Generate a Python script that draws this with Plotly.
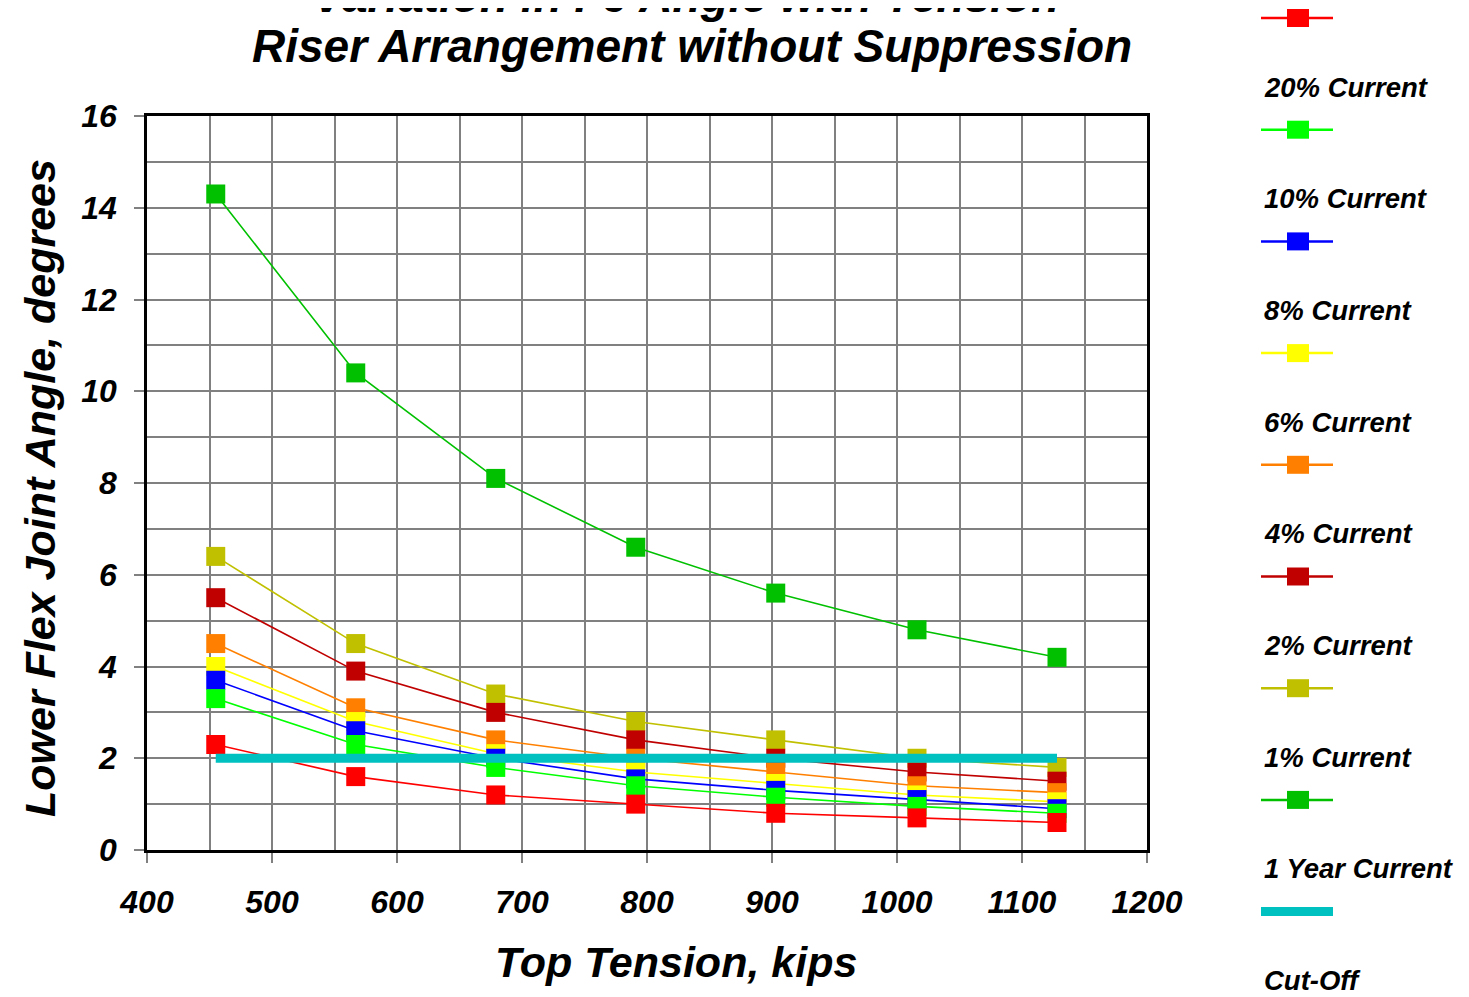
import plotly.graph_objects as go

# ---------------- data ----------------
tension = [455, 567, 679, 791, 903, 1016, 1128]

one_year = [14.3, 10.4, 8.1, 6.6, 5.6, 4.8, 4.2]
pct1 = [6.4, 4.5, 3.4, 2.8, 2.4, 2.0, 1.8]
pct2 = [5.5, 3.9, 3.0, 2.4, 2.0, 1.7, 1.5]
pct4 = [4.5, 3.1, 2.4, 2.0, 1.7, 1.4, 1.25]
pct6 = [4.0, 2.8, 2.1, 1.7, 1.45, 1.2, 1.05]
pct8 = [3.7, 2.6, 2.0, 1.55, 1.3, 1.1, 0.9]
pct10 = [3.3, 2.3, 1.8, 1.4, 1.15, 0.95, 0.8]
pct20 = [2.3, 1.6, 1.2, 1.0, 0.8, 0.7, 0.6]
cutoff = [2, 2, 2, 2, 2, 2, 2]

series_names = ["20% Current", "10% Current", "8% Current", "6% Current",
                "4% Current", "2% Current", "1% Current", "1 Year Current"]
series_values = [pct20, pct10, pct8, pct6, pct4, pct2, pct1, one_year]
series_colors = ["#FF0000", "#00FF00", "#0000FF", "#FFFF00",
                 "#FF8000", "#C00000", "#C0C000", "#00C000"]
cutoff_name = "Cut-Off"
cutoff_color = "#00C0C0"

x_ticks = [400, 500, 600, 700, 800, 900, 1000, 1100, 1200]
y_ticks = [0, 2, 4, 6, 8, 10, 12, 14, 16]

FONT = "Liberation Sans, Arial, sans-serif"

# ---------------- figure geometry (page has an 8px body offset) ----------------
OFF = 8
W, H = 1469 - OFF, 997 - OFF
L, R, T, B = 147 - OFF, 322, 116 - OFF, 147
plot_w = W - L - R
plot_h = H - T - B


def px_to_paper_x(px):
    return (px - OFF - L) / plot_w


def px_to_paper_y(py):
    return (H - B - (py - OFF)) / plot_h


fig = go.Figure()

# draw larger values first so lower series sit on top
for name, vals, col in reversed(list(zip(series_names, series_values, series_colors))):
    fig.add_trace(go.Scatter(
        x=tension, y=vals, mode="lines+markers", name=name,
        line=dict(color=col, width=1.6),
        marker=dict(symbol="square", size=19, color=col, line=dict(width=0)),
        showlegend=False, cliponaxis=False,
    ))

fig.add_trace(go.Scatter(
    x=tension, y=cutoff, mode="lines", name=cutoff_name,
    line=dict(color=cutoff_color, width=9), showlegend=False,
))

axis_common = dict(
    showgrid=True, gridcolor="#808080", gridwidth=1.5,
    showline=True, linecolor="black", linewidth=2.5, mirror=True,
    ticks="outside", ticklen=10, tickcolor="#808080", tickwidth=1.5,
    tickfont=dict(family=FONT, size=32, color="black", weight="bold", style="italic"),
    zeroline=False,
)

fig.update_xaxes(range=[400, 1200], tickvals=x_ticks,
                 minor=dict(dtick=50, tick0=400, showgrid=True, gridcolor="#808080", gridwidth=1.5),
                 ticklabelstandoff=12, **axis_common)
fig.update_yaxes(range=[0, 16], tickvals=y_ticks,
                 minor=dict(dtick=1, tick0=0, showgrid=True, gridcolor="#808080", gridwidth=1.5),
                 ticklabelstandoff=11, **axis_common)

annotations = []
shapes = []

title_font = dict(family=FONT, size=46, color="black", weight="bold", style="italic")
annotations.append(dict(text="Variation in FJ Angle with Tension", x=px_to_paper_x(686),
                        y=px_to_paper_y(-4), xref="paper", yref="paper",
                        showarrow=False, font=title_font, xanchor="center", yanchor="middle"))
annotations.append(dict(text="Riser Arrangement without Suppression", x=px_to_paper_x(692),
                        y=px_to_paper_y(46), xref="paper", yref="paper",
                        showarrow=False, font=title_font, xanchor="center", yanchor="middle"))

axis_title_font = dict(family=FONT, size=43, color="black", weight="bold", style="italic")
annotations.append(dict(text="Top Tension, kips", x=px_to_paper_x(676), y=px_to_paper_y(962),
                        xref="paper", yref="paper", showarrow=False, font=axis_title_font,
                        xanchor="center", yanchor="middle"))
annotations.append(dict(text="Lower Flex Joint Angle, degrees", x=px_to_paper_x(40),
                        y=px_to_paper_y(488), xref="paper", yref="paper", showarrow=False,
                        font=axis_title_font, textangle=-90, xanchor="center", yanchor="middle"))

# ---------------- custom legend (label below each symbol) ----------------
leg_font = dict(family=FONT, size=27.5, color="black", weight="bold", style="italic")
base_y = 18
step = 111.7
for i, (name, col) in enumerate(zip(series_names, series_colors)):
    my = base_y + i * step
    shapes.append(dict(type="line", xref="paper", yref="paper",
                       x0=px_to_paper_x(1261), x1=px_to_paper_x(1333),
                       y0=px_to_paper_y(my), y1=px_to_paper_y(my),
                       line=dict(color=col, width=2.5)))
    shapes.append(dict(type="rect", xref="paper", yref="paper",
                       x0=px_to_paper_x(1287), x1=px_to_paper_x(1309),
                       y0=px_to_paper_y(my - 9), y1=px_to_paper_y(my + 9),
                       fillcolor=col, line=dict(width=0)))
    annotations.append(dict(text=name, x=px_to_paper_x(1262), y=px_to_paper_y(my + 69),
                            xref="paper", yref="paper", showarrow=False, font=leg_font,
                            xanchor="left", yanchor="middle"))
my = base_y + len(series_names) * step
shapes.append(dict(type="line", xref="paper", yref="paper",
                   x0=px_to_paper_x(1261), x1=px_to_paper_x(1333),
                   y0=px_to_paper_y(my), y1=px_to_paper_y(my),
                   line=dict(color=cutoff_color, width=9)))
annotations.append(dict(text=cutoff_name, x=px_to_paper_x(1262), y=px_to_paper_y(my + 69),
                        xref="paper", yref="paper", showarrow=False, font=leg_font,
                        xanchor="left", yanchor="middle"))

fig.update_layout(
    width=W, height=H,
    margin=dict(l=L, r=R, t=T, b=B, autoexpand=False),
    plot_bgcolor="white", paper_bgcolor="white",
    showlegend=False,
    annotations=annotations, shapes=shapes,
    font=dict(family=FONT),
)

fig.write_html("out.html")
